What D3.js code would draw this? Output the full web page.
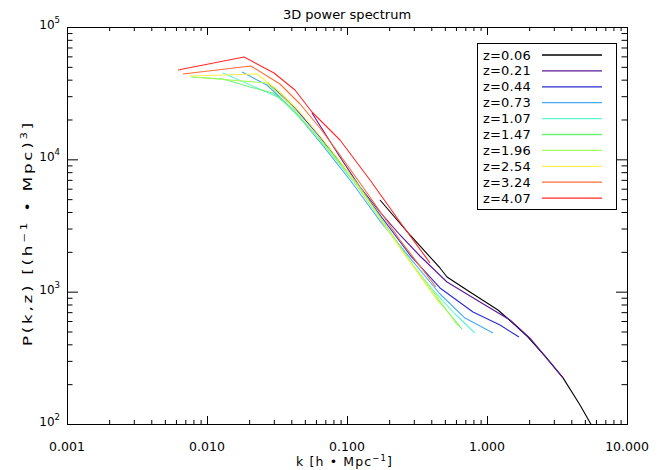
<!DOCTYPE html>
<html><head><meta charset="utf-8">
<script src="https://cdn.jsdelivr.net/npm/d3@7"></script>
<style>body{margin:0;background:#fff} text{font-family:"DejaVu Sans",sans-serif;fill:#000}</style>
</head><body><svg id="c" width="671" height="470"></svg>
<script>
// ---- data ----
const seriesNames = ["z=0.06","z=0.21","z=0.44","z=0.73","z=1.07","z=1.47","z=1.96","z=2.54","z=3.24","z=4.07"];
const seriesColors = ["#000000","#5b189a","#2a2ad8","#45aaf2","#5ff5d2","#6ef276","#a8fb5e","#fff050","#ff6c34","#ff2a2a"];
const pk_z006 = [[0.1721,4928],[0.2818,2681],[0.4616,1510],[0.518,1291],[0.7559,994],[1.198,727],[1.585,560],[1.963,454],[2.596,326],[3.491,223],[4.616,139],[6.414,75.7]];
const pk_z021 = [[0.0562,22390],[0.0891,10410],[0.1238,6179],[0.1721,3999],[0.239,2681],[0.332,1860],[0.518,1183],[0.891,835],[1.46,611],[2.028,446],[2.596,326],[3.491,223]];
const pk_z044 = [[0.0273,37740],[0.0425,24430],[0.0641,14750],[0.1051,7614],[0.1721,3796],[0.2818,1892],[0.4616,1066],[0.7943,702],[1.239,560],[1.693,454]];
const pk_z073 = [[0.01778,45700],[0.0268,36450],[0.0425,22790],[0.0641,13520],[0.1051,6979],[0.1721,3420],[0.2818,1797],[0.4616,960],[0.6966,632],[1.104,487]];
const pk_z107 = [[0.0130,44920],[0.0332,29080],[0.0462,20530],[0.0720,11970],[0.1179,6287],[0.1868,3134],[0.2818,1676],[0.4115,1029],[0.5908,678],[0.8209,487]];
const pk_z147 = [[0.00768,41910],[0.0130,40460],[0.0203,35210],[0.0296,31710],[0.0392,24860],[0.0720,12390],[0.1179,6624],[0.1868,3245],[0.2683,1828],[0.4115,960],[0.663,522]];
const pk_z196 = [[0.00794,41910],[0.0268,37740],[0.0392,26190],[0.0641,14000],[0.1051,7482],[0.1721,3603],[0.2818,1705],[0.4253,960],[0.6206,550]];
const pk_z254 = [[0.00756,42640],[0.0228,44140],[0.0332,32270],[0.0462,22790],[0.0641,15010],[0.0891,9714],[0.1345,5283],[0.239,2137],[0.462,807]];
const pk_z324 = [[0.00674,44140],[0.0206,50730],[0.0332,37090],[0.0462,26190],[0.0641,17250],[0.0891,10780],[0.1345,5863],[0.239,2457],[0.432,1084]];
const pk_z407 = [[0.00621,47330],[0.0184,59330],[0.0301,44920],[0.0425,33410],[0.0562,22790],[0.0891,14000],[0.146,6979],[0.239,3360],[0.392,1647]];
const allSeries = [pk_z006,pk_z021,pk_z044,pk_z073,pk_z107,pk_z147,pk_z196,pk_z254,pk_z324,pk_z407];
const xTickValues = [0.001,0.01,0.1,1,10];
const xTickLabels = ["0.001","0.010","0.100","1.000","10.000"];
const yTickValues = [100,1000,10000,100000];
const yTickExponents = ["2","3","4","5"];
const chartTitle = "3D power spectrum";

// ---- layout ----
const svg = d3.select("#c");
const m = {l:67, r:627, t:27, b:424};
const x = d3.scaleLog().domain([0.001,10]).range([m.l,m.r]);
const y = d3.scaleLog().domain([100,1e5]).range([m.b,m.t]);

const minorOf = (lo,hi) => { const a=[]; for(let d=lo; d<hi; d*=10) for(let i=2;i<=9;i++) a.push(d*i); return a; };
const xMinor = minorOf(0.001,10), yMinor = minorOf(100,1e5);

svg.append("defs").append("clipPath").attr("id","clip").append("rect")
  .attr("x",m.l).attr("y",m.t).attr("width",m.r-m.l).attr("height",m.b-m.t);

// curves
const line = d3.line().x(d=>x(d[0])).y(d=>y(d[1]));
const gc = svg.append("g").attr("clip-path","url(#clip)");
allSeries.forEach((s,i)=>{
  gc.append("path").datum(s).attr("d",line).attr("fill","none")
    .attr("stroke",seriesColors[i]).attr("stroke-width",1.1).attr("stroke-linejoin","round");
});

// axes
function ax(gen, tr, vals, size){
  const g = svg.append("g").attr("transform",tr)
    .call(gen.tickValues(vals).tickSize(size).tickSizeOuter(0).tickFormat(""));
  g.selectAll("path,line").attr("stroke","#000").attr("stroke-width",1);
  return g;
}
ax(d3.axisBottom(x), `translate(0,${m.b})`, xTickValues, -8);
ax(d3.axisBottom(x), `translate(0,${m.b})`, xMinor, -4);
ax(d3.axisTop(x), `translate(0,${m.t})`, xTickValues, -8);
ax(d3.axisTop(x), `translate(0,${m.t})`, xMinor, -4);
ax(d3.axisLeft(y), `translate(${m.l},0)`, yTickValues, -11);
ax(d3.axisLeft(y), `translate(${m.l},0)`, yMinor, -5.5);
ax(d3.axisRight(y), `translate(${m.r},0)`, yTickValues, -11);
ax(d3.axisRight(y), `translate(${m.r},0)`, yMinor, -5.5);

// tick labels
svg.append("g").selectAll("text").data(xTickValues).join("text")
  .attr("x",d=>x(d)).attr("y",451).attr("text-anchor","middle")
  .attr("font-size",12.5).text((d,i)=>xTickLabels[i]);
const yl = svg.append("g").selectAll("text").data(yTickValues).join("text")
  .attr("x",60).attr("y",d=>y(d)+2).attr("text-anchor","end").attr("font-size",12);
yl.append("tspan").text("10");
yl.append("tspan").attr("dy",-6).attr("font-size",8.5).text((d,i)=>yTickExponents[i]);

// titles
svg.append("text").attr("x",347).attr("y",19).attr("text-anchor","middle")
  .attr("font-size",13).text(chartTitle);
const xt = svg.append("text").attr("x",344).attr("y",466).attr("text-anchor","middle")
  .attr("font-size",12.5).attr("textLength",96).attr("lengthAdjust","spacing");
xt.append("tspan").text("k  [h \u2022 Mpc");
xt.append("tspan").attr("dy",-5).attr("font-size",8.5).text("\u22121");
xt.append("tspan").attr("dy",5).text("]");
const yt = svg.append("text").attr("transform","translate(32,233) rotate(-90)")
  .attr("text-anchor","middle").attr("font-size",12).attr("letter-spacing",2)
  .attr("textLength",226).attr("lengthAdjust","spacingAndGlyphs");
yt.append("tspan").text("P(k,z)  [(h");
yt.append("tspan").attr("dy",-5).attr("font-size",8.5).text("\u22121");
yt.append("tspan").attr("dy",5).text(" \u2022 Mpc)");
yt.append("tspan").attr("dy",-5).attr("font-size",8.5).text("3");
yt.append("tspan").attr("dy",5).text("]");

// legend
const lg = svg.append("g");
lg.append("rect").attr("x",477.5).attr("y",43.5).attr("width",139).attr("height",166)
  .attr("fill","#fff").attr("stroke","#000").attr("stroke-width",1);
const rowY = i => 55 + i*15.9;
seriesNames.forEach((n,i)=>{
  lg.append("text").attr("x",483).attr("y",rowY(i)+4.5).attr("font-size",13)
    .attr("letter-spacing",0.2).text(n);
  lg.append("line").attr("x1",542).attr("x2",602).attr("y1",rowY(i)).attr("y2",rowY(i))
    .attr("stroke",seriesColors[i]).attr("stroke-width",1.3);
});
</script></body></html>
